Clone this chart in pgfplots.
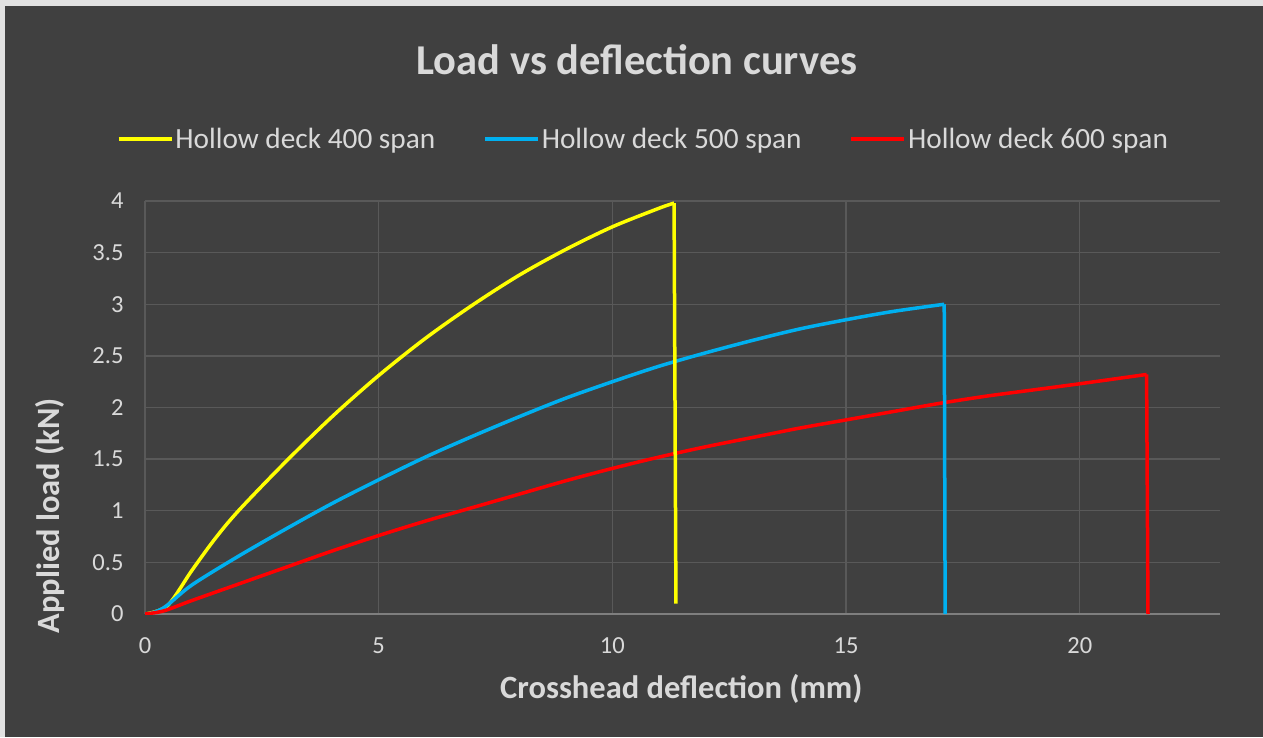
\documentclass[border=0pt]{standalone}
\usepackage{pgfplots}
\pgfplotsset{compat=1.18}
\usepackage{fontspec}
\setmainfont{Carlito}
\definecolor{bg}{HTML}{404040}
\definecolor{frm}{HTML}{E2E2E2}
\definecolor{txt}{HTML}{D9D9D9}
\definecolor{grd}{HTML}{595959}
\definecolor{axl}{HTML}{7F7F7F}
\definecolor{yl}{HTML}{FFFF00}
\definecolor{bl}{HTML}{00B0F0}
\definecolor{rd}{HTML}{FF0000}
\begin{document}
\begin{tikzpicture}[x=1pt,y=1pt]
\fill[frm] (0,0) rectangle (1263,737);
\fill[bg] (5,0) rectangle (1263,731);
\node[text=txt, font=\fontsize{42.5}{48}\selectfont\bfseries] at (637,677) {Load vs deflection curves};
\begin{axis}[
  at={(145pt,123pt)}, anchor=south west,
  scale only axis, width=1075pt, height=413pt,
  xmin=0, xmax=23, ymin=0, ymax=4,
  xtick={0,5,10,15,20}, ytick={0,0.5,1,1.5,2,2.5,3,3.5,4},
  major tick length=0pt,
  grid=major, grid style={grd, line width=1.3pt},
  axis x line*=bottom, axis y line*=left,
  x axis line style={-, axl, line width=1.5pt},
  y axis line style={-, grd, line width=1.3pt},
  /pgf/number format/assume math mode=true,
  tick label style={text=txt, font=\fontsize{24.5}{28}\selectfont},
  xticklabel style={yshift=-20pt},
  yticklabel style={xshift=-18pt},
  xlabel={Crosshead deflection (mm)},
  ylabel={Applied load (kN)},
  label style={text=txt, font=\fontsize{32.5}{38}\selectfont\bfseries},
  xlabel style={at={(rel axis cs:0.499,-0.182)}, anchor=center},
  ylabel style={at={(rel axis cs:-0.0884,0.238)}, anchor=center, rotate=0},
  legend columns=3,
  legend style={at={(0.4637,1.150)}, anchor=center, draw=none, fill=none,
    text=txt, font=\fontsize{29.3}{34}\selectfont,
    /tikz/every even column/.append style={column sep=46pt}},
  legend image code/.code={\draw[#1, line width=3.5pt] (0pt,0pt) -- (53pt,0pt);},
  every axis plot/.append style={line width=3.5pt, line join=round},
]
\addplot[yl, smooth] coordinates {
(0,0) (0.48,0.08) (1,0.42) (1.5,0.73) (2,1.0) (3,1.47) (4,1.91) (5,2.31) (6,2.67)
(7,2.99) (8,3.28) (9,3.53) (10,3.75) (11,3.93) (11.32,3.98)};
\addlegendentry{Hollow deck 400 span}
\addplot[bl, smooth] coordinates {
(0,-0.01) (0.4,0.06) (1,0.28) (2,0.56) (3,0.82) (4,1.07) (5,1.30) (6,1.52) (7,1.72)
(8,1.91) (9,2.09) (10,2.25) (11,2.40) (12,2.53) (13,2.65) (14,2.76) (15,2.85) (16,2.93) (17.1,3.0)};
\addlegendentry{Hollow deck 500 span}
\addplot[rd, smooth] coordinates {
(0,0) (0.4,0.03) (1,0.13) (2,0.29) (3,0.45) (4,0.61) (5,0.76) (6,0.90) (7,1.03) (8,1.16)
(9,1.29) (10,1.41) (11,1.52) (12,1.62) (13,1.71) (14,1.80) (15,1.88) (16,1.96) (17,2.04)
(18,2.11) (19,2.17) (20,2.23) (21.43,2.32)};
\addlegendentry{Hollow deck 600 span}
\addplot[yl, forget plot] coordinates {(11.32,3.98) (11.36,0.1)};
\addplot[bl, forget plot] coordinates {(17.1,3.0) (17.12,0)};
\addplot[rd, forget plot] coordinates {(21.43,2.32) (21.46,0)};
\end{axis}
\end{tikzpicture}
\end{document}
